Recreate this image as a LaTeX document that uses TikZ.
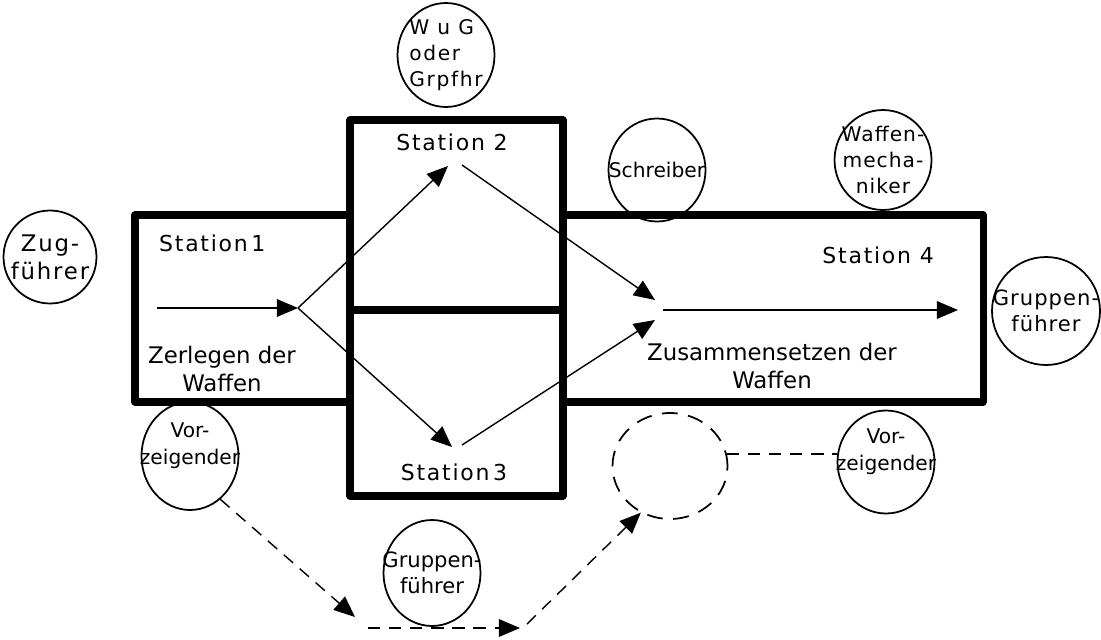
\documentclass[tikz,border=0pt]{standalone}
\usepackage{fontspec}
\setmainfont{DejaVu Sans}
\newfontfamily\widefont[LetterSpace=8]{DejaVu Sans}
\newfontfamily\halfwidefont[LetterSpace=5]{DejaVu Sans}
\usetikzlibrary{arrows.meta, positioning, shapes.geometric}

\begin{document}
\begin{tikzpicture}[
      x=0.02cm,
      y=-0.02cm,
      font=\fontsize{13}{16}\selectfont,
      wall/.style={
        line width=4pt,
        line join=round
      },
      flow/.style={
        -{Triangle[length=12pt, width=10pt]},
        line width=0.8pt
      },
      dashflow/.style={
        flow,
        dash pattern=on 7pt off 5pt
      },
      dashline/.style={
        line width=0.8pt,
        dash pattern=on 7pt off 5pt
      },
      person/.style={
        draw,
        ellipse,
        line width=1pt,
        inner sep=-40pt,
        align=center,
        minimum width=1.94cm,
        minimum height=2.06cm,
        font=\halfwidefont\fontsize{11.5}{15}\selectfont
      },
      stationname/.style={
        font=\widefont\fontsize{12.5}{16}\selectfont
      },
      raised/.style={text depth=14pt}
  ]

    \useasboundingbox (0,0) rectangle (1101,639);

    % Stationen
    \draw[wall] (135,215) rectangle (350,402);
    \draw[wall] (350,120) rectangle (563,496);
    \draw[wall] (350,310) -- (563,310);
    \draw[wall] (563,215) rectangle (983,402);

    \node[stationname, anchor=west] (st1) at (153,243) {Station\,1};
    \node[stationname] (st2) at (452,142) {Station 2};
    \node[stationname] (st3) at (454,472) {Station\,3};
    \node[stationname, anchor=east] (st4) at (940,255) {Station 4};

    \node[align=center] (zerlegen) at (222,369) {Zerlegen der\\Waffen};
    \node[align=center] (zusammen) at (772,366) {Zusammensetzen der\\Waffen};

    % Personen
    \node[person, minimum width=1.86cm, minimum height=1.86cm,
      font=\widefont\fontsize{13}{16}\selectfont] (zug) at (50,257) {Zug-\\führer};
    \node[person, align=left, minimum height=2.08cm,
      font=\widefont\fontsize{11.5}{15}\selectfont] (wug) at (446,55) {W u G\\oder\\Grpfhr};
    \node[person, font=\fontsize{11.5}{15}\selectfont] (schreiber) at (657,170) {Schreiber};
    \node[person, minimum height=2.0cm] (mech) at (883,160) {Waffen-\\mecha-\\niker};
    \node[person, minimum width=2.16cm, minimum height=2.16cm,
      font=\halfwidefont\fontsize{12}{15}\selectfont] (gruppeR) at (1046,311) {Gruppen-\\führer};
    \node[person, raised, minimum height=2.16cm,
      font=\fontsize{11.5}{15}\selectfont] (vorL) at (190,456) {Vor-\\zeigender};
    \node[person, minimum height=2.12cm,
      font=\fontsize{12}{15}\selectfont] (gruppeB) at (432,573) {Gruppen-\\führer};
    \node[person, raised,
      font=\fontsize{11.5}{15}\selectfont] (vorR) at (886,462) {Vor-\\zeigender};
    \node[person, minimum width=2.3cm, minimum height=2.12cm,
      dash pattern=on 9pt off 6pt] (leer) at (670,466) {};

    % Weg der Waffen
    \coordinate (a1) at (157,308);
    \coordinate (a2) at (298,308);
    \coordinate (b1) at (448,166);
    \coordinate (b2) at (452,447);
    \coordinate (c1) at (462,165);
    \coordinate (c2) at (462,445);
    \coordinate (c3) at (655,300);
    \coordinate (c4) at (655,320);
    \coordinate (d1) at (663,310);
    \coordinate (d2) at (958,310);

    \draw[flow] (a1) -- (a2);
    \draw[flow] (a2) -- (b1);
    \draw[flow] (a2) -- (b2);
    \draw[flow] (c1) -- (c3);
    \draw[flow] (c2) -- (c4);
    \draw[flow] (d1) -- (d2);

    % Weg der Vorzeigenden
    \coordinate (e1) at (355,617);
    \coordinate (e2) at (368,628);
    \coordinate (e3) at (520,628);
    \coordinate (e4) at (527,624);

    \draw[dashflow] (vorL.-55) -- (e1);
    \draw[dashflow] (e2) -- (e3);
    \draw[dashflow] (e4) -- (leer.238);
    \draw[dashline] (leer.12) -- (vorR.west |- leer.12);

  \end{tikzpicture}
\end{document}
